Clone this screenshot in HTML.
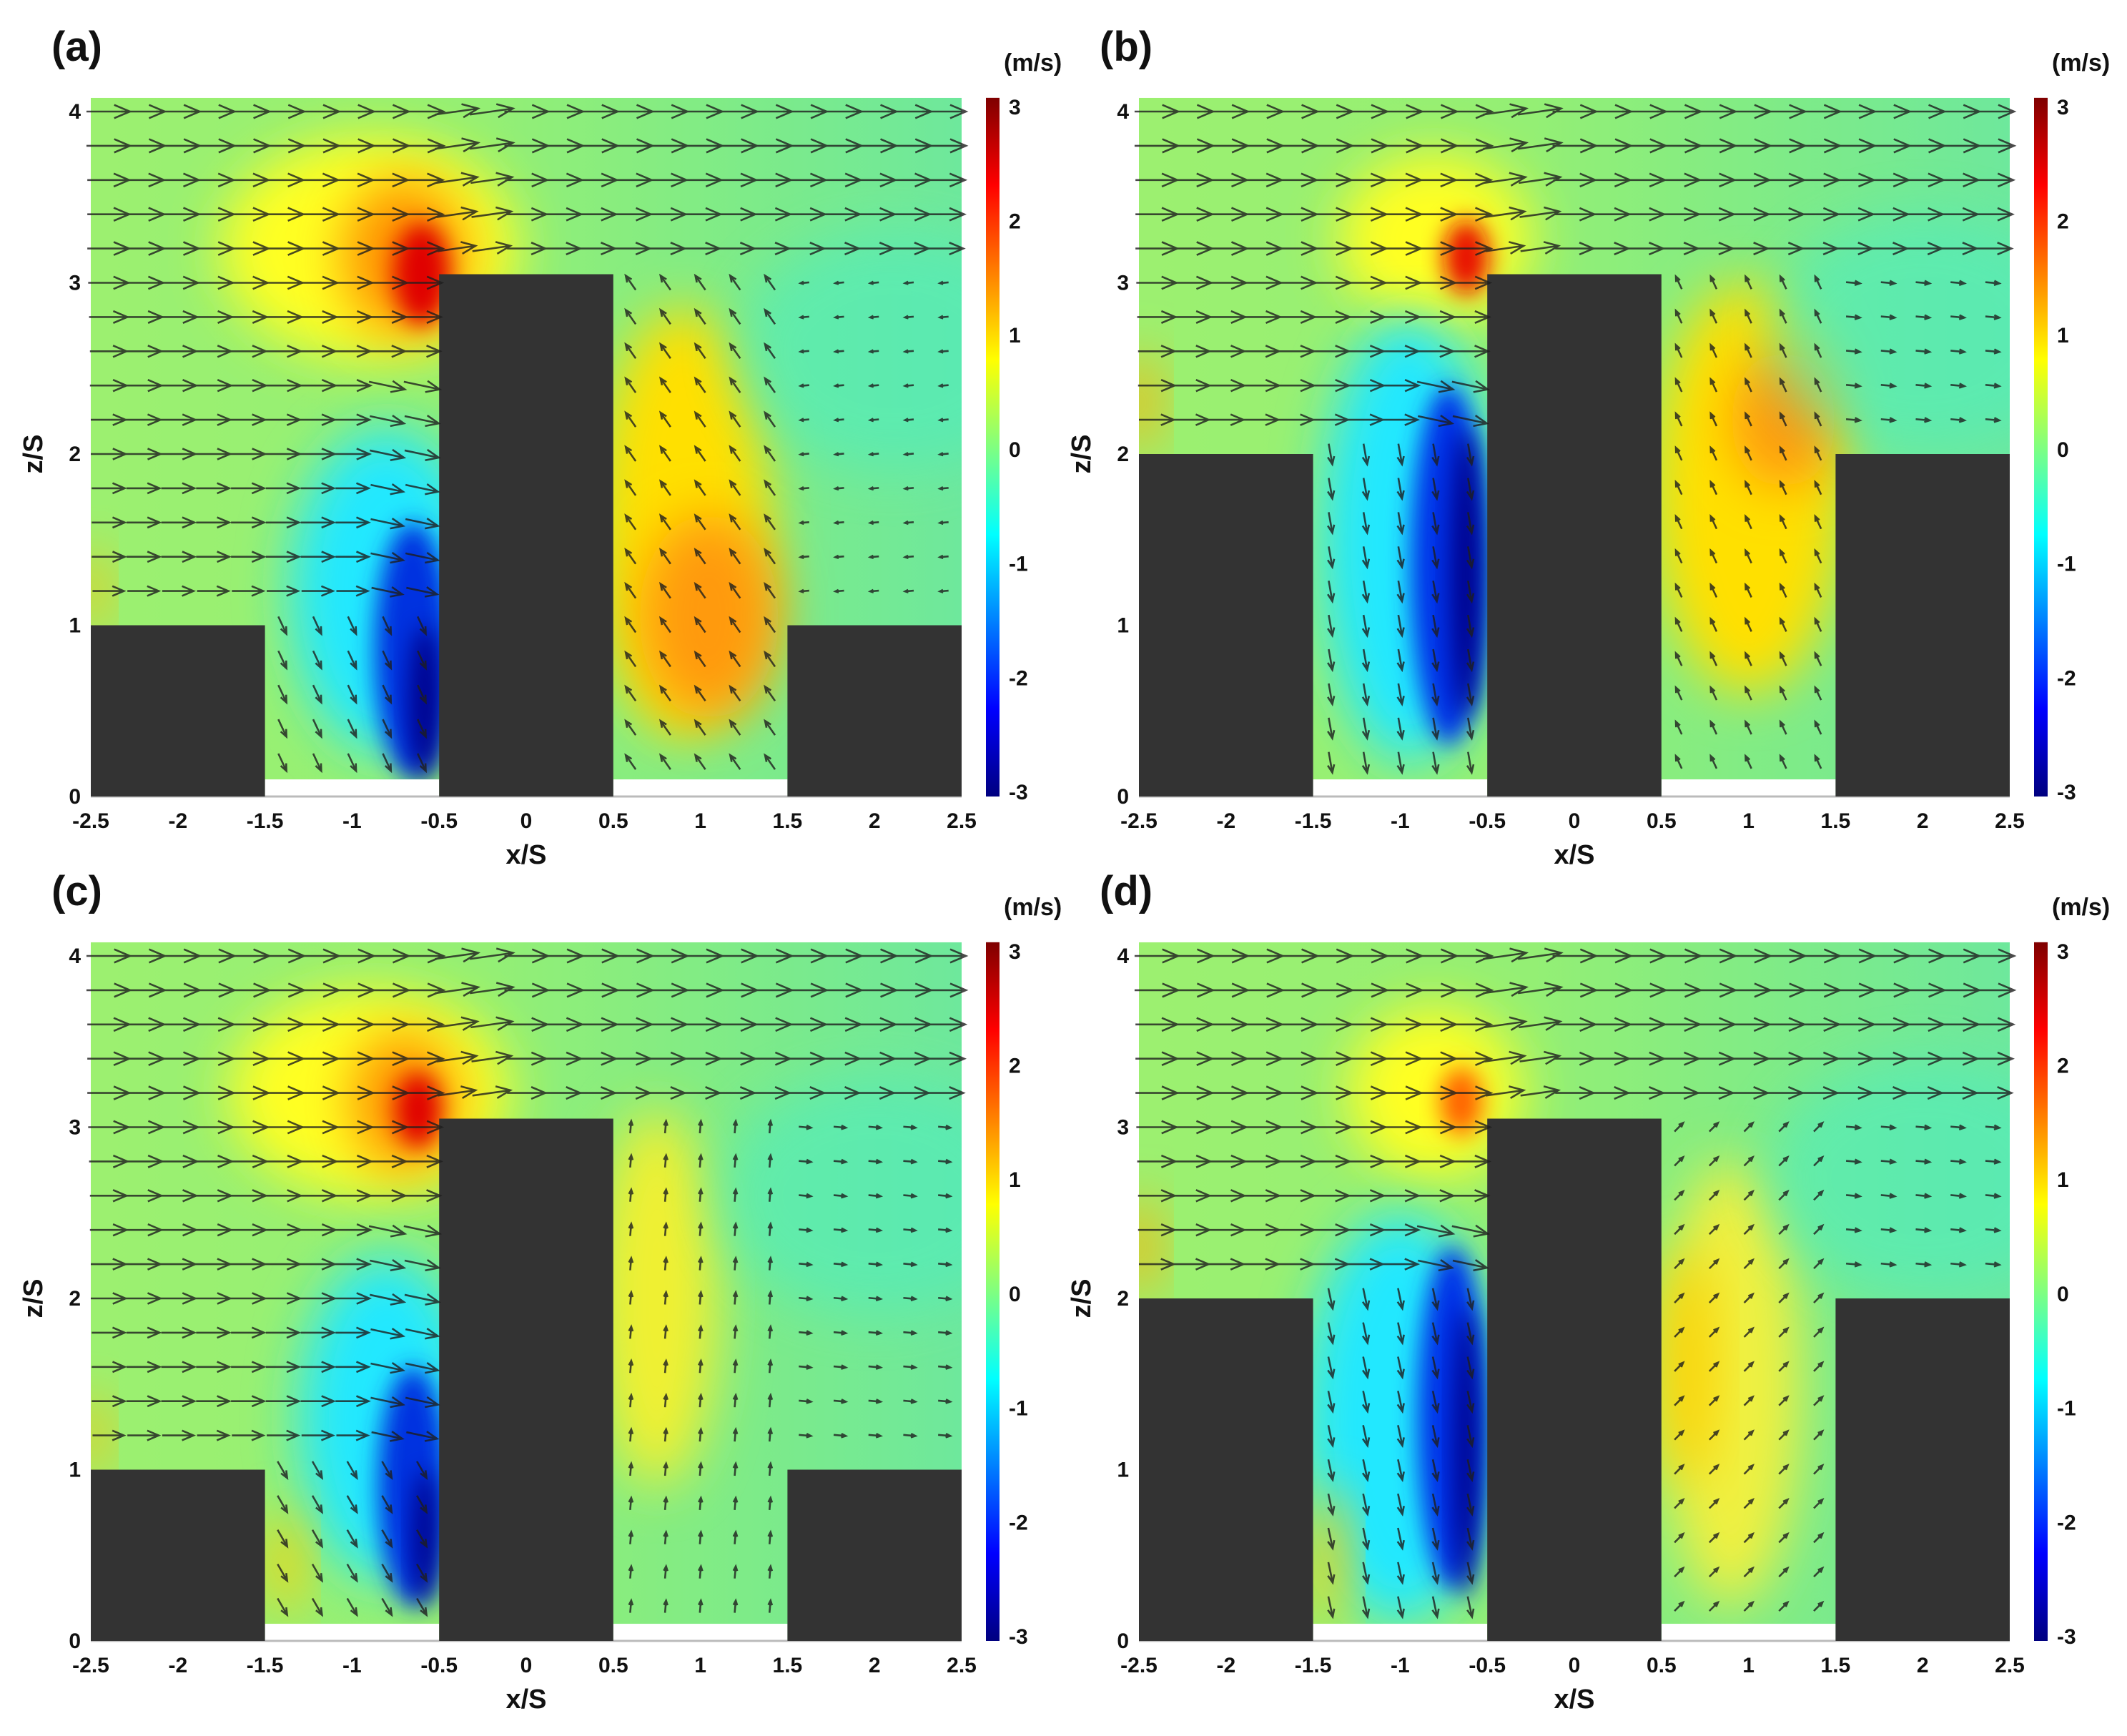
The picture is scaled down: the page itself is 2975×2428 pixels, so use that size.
<!DOCTYPE html>
<html><head><meta charset="utf-8">
<style>
html,body{margin:0;padding:0;background:#fff;}
svg{display:block;}
text{font-family:"Liberation Sans",sans-serif;}
</style></head>
<body>
<svg id="fig" width="2975" height="2428" viewBox="0 0 2975 2428" xmlns="http://www.w3.org/2000/svg">
<defs>
<linearGradient id="jet" x1="0" y1="1" x2="0" y2="0">
<stop offset="0" stop-color="#00007f"/><stop offset="0.125" stop-color="#0000ff"/>
<stop offset="0.375" stop-color="#00ffff"/><stop offset="0.5" stop-color="#80ff80"/>
<stop offset="0.625" stop-color="#ffff00"/><stop offset="0.875" stop-color="#ff0000"/>
<stop offset="1" stop-color="#7f0000"/>
</linearGradient>
<linearGradient id="bgGrad" x1="0" y1="0" x2="1" y2="0">
<stop offset="0" stop-color="#9cf070"/><stop offset="0.45" stop-color="#94ef74"/>
<stop offset="0.75" stop-color="#7eeb88"/><stop offset="1" stop-color="#6ee89c"/>
</linearGradient>
<filter id="blur" x="-50%" y="-50%" width="200%" height="200%"><feGaussianBlur stdDeviation="36"/></filter>
<filter id="blurS" x="-50%" y="-50%" width="200%" height="200%"><feGaussianBlur stdDeviation="16"/></filter>
</defs>
</svg>
<script>
const NS='http://www.w3.org/2000/svg';
const svg=document.getElementById('fig');
// data
const xTicks=[-2.5,-2,-1.5,-1,-0.5,0,0.5,1,1.5,2,2.5];
const zTicks=[0,1,2,3,4];
const cbTicks=[3,2,1,0,-1,-2,-3];
const panelLabels=['(a)','(b)','(c)','(d)'];
const sideHeights=[1,2,1,2];
const midHeight=3.05;
const rowZ=[4.0,3.8,3.6,3.4,3.2,3.0,2.8,2.6,2.4,2.2,2.0,1.8,1.6,1.4,1.2,1.0,0.8,0.6,0.4,0.2];
const rowLenLeft=[0.25,0.25,0.24,0.24,0.24,0.23,0.22,0.21,0.21,0.2,0.2,0.19,0.19,0.19,0.18,0.17,0.15,0.13,0.12,0.1];
const rowLenRight=[0.25,0.25,0.24,0.23,0.22,0.2];
const leftCavAngle=[65,80,60,78];
const leftCavLen=[0.11,0.12,0.11,0.12];
const rightCavAngle=[-125,-115,-85,-45];
const rightCavLen=[0.1,0.08,0.07,0.07];
const upperRightAngle=[175,5,5,5];
const upperRightLen=[0.05,0.08,0.07,0.08];
// colour blobs: [x, z, rx, rz, colour, opacity, sharp]
const blobsA=[[-0.9,3.2,0.85,0.65,'#ffff20',1,0],[-0.7,3.15,0.35,0.45,'#ff9000',1,0],[-0.6,3.05,0.16,0.3,'#e00000',1,1],[-0.8,1.2,0.55,0.95,'#20e8ff',1,0],[-0.65,0.85,0.22,0.75,'#0030e0',1,1],[-0.58,0.55,0.09,0.45,'#00008a',1,1],[0.9,1.6,0.5,1.25,'#ffe000',1,0],[1.05,1.05,0.4,0.6,'#ff9a10',1,0],[2.1,2.6,0.9,0.7,'#50ecc0',0.6,0],[-2.5,1.2,0.08,0.25,'#ffc000',1,0]];
const blobsB=[[-0.8,3.25,0.55,0.5,'#ffff20',1,0],[-0.62,3.15,0.13,0.22,'#e81000',1,1],[-0.95,1.5,0.5,1.3,'#20e8ff',1,0],[-0.72,1.35,0.22,1.05,'#0030e8',1,1],[-0.62,1.3,0.09,0.85,'#00008a',1,1],[1.0,1.8,0.55,1.2,'#ffe000',1,0],[1.2,2.2,0.3,0.4,'#ff9a10',1,0],[2.0,2.7,0.9,0.7,'#50ecc0',0.6,0],[-2.5,2.3,0.1,0.3,'#ffb000',1,0]];
const blobsC=[[-0.9,3.2,0.8,0.6,'#ffff20',1,0],[-0.7,3.15,0.3,0.4,'#ff9000',1,0],[-0.62,3.1,0.13,0.22,'#e00000',1,1],[-0.8,1.3,0.5,0.95,'#20e8ff',1,0],[-0.65,0.9,0.2,0.7,'#0030e0',1,1],[-0.58,0.6,0.07,0.4,'#00008a',1,1],[-1.38,0.45,0.1,0.3,'#ffd000',1,0],[0.75,2.0,0.35,1.1,'#f0f030',1,0],[2.0,2.6,0.9,0.7,'#50ecc0',0.6,0],[-2.5,1.2,0.08,0.25,'#ffc000',1,0]];
const blobsD=[[-0.8,3.2,0.5,0.5,'#ffff20',1,0],[-0.65,3.15,0.12,0.2,'#ff6000',1,1],[-1.0,1.3,0.55,1.2,'#20e8ff',1,0],[-0.7,1.3,0.2,1.0,'#0030e8',1,1],[-0.62,1.1,0.07,0.85,'#00008a',1,1],[-1.4,0.5,0.1,0.4,'#ffd000',1,0],[0.9,1.5,0.4,1.3,'#f0f040',1,0],[0.65,1.6,0.15,0.7,'#ffd000',1,0],[2.0,2.7,0.9,0.7,'#50ecc0',0.6,0],[-2.5,2.3,0.1,0.3,'#ffb000',1,0]];
const blobSets=[blobsA,blobsB,blobsC,blobsD];

const origins=[[127,1114],[1593,1114],[127,2295],[1593,2295]];
const W=1218, UX=W/5, UZ=239.5;

function el(tag,attrs,parent){const e=document.createElementNS(NS,tag);for(const k in attrs)e.setAttribute(k,attrs[k]);(parent||svg).appendChild(e);return e;}

function drawPanel(p){
  const [ox,oy]=origins[p];
  const X=x=>ox+(x+2.5)*UX, Z=z=>oy-z*UZ;
  const top=oy-4.08*UZ;
  const g=el('g',{});
  
  
  const cid='clip'+p;
  const cp=el('clipPath',{id:cid},g);
  el('rect',{x:ox,y:top,width:W,height:oy-top},cp);
  const field=el('g',{'clip-path':'url(#'+cid+')'},g);
  
  
  el('rect',{x:ox,y:top,width:W,height:oy-top,fill:'url(#bgGrad)'},field);
  for(const b of blobSets[p]){
    const e=el('ellipse',{cx:X(b[0]),cy:Z(b[1]),rx:b[2]*UX,ry:b[3]*UZ,fill:b[4],opacity:b[5],filter:b[6]?'url(#blurS)':'url(#blur)'},field);
    
    
  }
  const sh=sideHeights[p];
  [[-1.5,-0.5],[0.5,1.5]].forEach(r=>{
    el('rect',{x:X(r[0]),y:Z(0.1),width:(r[1]-r[0])*UX,height:0.1*UZ,fill:'#ffffff'},field);
  });
  el('line',{x1:ox,y1:oy,x2:ox+W,y2:oy,stroke:'#bbb','stroke-width':3},g);
  [[-2.5,-1.5,sh],[-0.5,0.5,midHeight],[1.5,2.5,sh]].forEach((b,i)=>{
    const r=el('rect',{x:X(b[0]),y:Z(b[2]),width:(b[1]-b[0])*UX,height:b[2]*UZ,fill:'#333333'},g);
    
    
  });
  const ag=el('g',{stroke:'#1e1e1e','stroke-width':2.6,fill:'none',opacity:0.8},g);
  
  
  function arrow(x,z,len,ang){
    const a=ang*Math.PI/180, L=len*UX;
    const x0=X(x)-Math.cos(a)*L/2, y0=Z(z)-Math.sin(a)*L/2;
    const x1=X(x)+Math.cos(a)*L/2, y1=Z(z)+Math.sin(a)*L/2;
    const h=Math.min(24,L*0.4);
    const p1=[x1-h*Math.cos(a-0.4),y1-h*Math.sin(a-0.4)], p2=[x1-h*Math.cos(a+0.4),y1-h*Math.sin(a+0.4)];
    const pa=el('path',{d:`M${x0},${y0}L${x1},${y1}M${p1[0]},${p1[1]}L${x1},${y1}L${p2[0]},${p2[1]}`},ag);
    
    
  }
  for(let xi=0;xi<25;xi++){
    const x=-2.4+xi*0.2;
    rowZ.forEach((z,ri)=>{
      if(x<-0.5){
        if(x<-1.5){ if(z>sh+0.02) arrow(x,z,rowLenLeft[ri],0); }
        else if(z>sh+0.02) arrow(x,z,rowLenLeft[ri],x>-0.9&&z<2.6?12:0);
        else if(z>0.15) arrow(x,z,leftCavLen[p],leftCavAngle[p]);
      } else if(z>midHeight){
        arrow(x,z,rowLenRight[ri]||0.2,x<0?-8:0);
      } else if(x>0.5&&x<1.5){
        if(z>0.15) arrow(x,z,rightCavLen[p],rightCavAngle[p]);
      } else if(x>1.5&&z>sh+0.02){
        arrow(x,z,upperRightLen[p],upperRightAngle[p]);
      }
    });
  }
  xTicks.forEach(t=>{
    const tx=el('text',{x:X(t),y:oy+44,'font-size':30,'font-weight':'bold','text-anchor':'middle',fill:'#111'},g);
    tx.textContent=t;
    
    
  });
  zTicks.forEach(t=>{
    const tz=el('text',{x:ox-14,y:Z(t)+10,'font-size':30,'font-weight':'bold','text-anchor':'end',fill:'#111'},g);
    tz.textContent=t;
    
    
  });
  const xl=el('text',{x:ox+W/2,y:oy+94,'font-size':38,'font-weight':'bold','text-anchor':'middle',fill:'#111'},g);
  xl.textContent='x/S';
  
  
  const zl=el('text',{x:ox-68,y:Z(2),'font-size':38,'font-weight':'bold','text-anchor':'middle',fill:'#111',transform:`rotate(-90 ${ox-68} ${Z(2)})`},g);
  zl.textContent='z/S';
  
  
  const pl=el('text',{x:ox-55,y:top-52,'font-size':58,'font-weight':'bold',fill:'#111'},g);
  pl.textContent=panelLabels[p];
  
  
  const cx=ox+1252, cw=19;
  const cb=el('rect',{x:cx,y:top,width:cw,height:oy-top,fill:'url(#jet)'},g);
  
  
  const cbTop=top+13, cbBot=oy-6;
  cbTicks.forEach(t=>{
    const y=cbTop+(3-t)/6*(cbBot-cbTop);
    const ct=el('text',{x:cx+32,y:y+10,'font-size':30,'font-weight':'bold',fill:'#111'},g);
    ct.textContent=t;
    
    
  });
  const un=el('text',{x:cx+25,y:top-38,'font-size':34,'font-weight':'bold',fill:'#111'},g);
  un.textContent='(m/s)';
  
  
}
for(let p=0;p<4;p++)drawPanel(p);
</script>
</body></html>
